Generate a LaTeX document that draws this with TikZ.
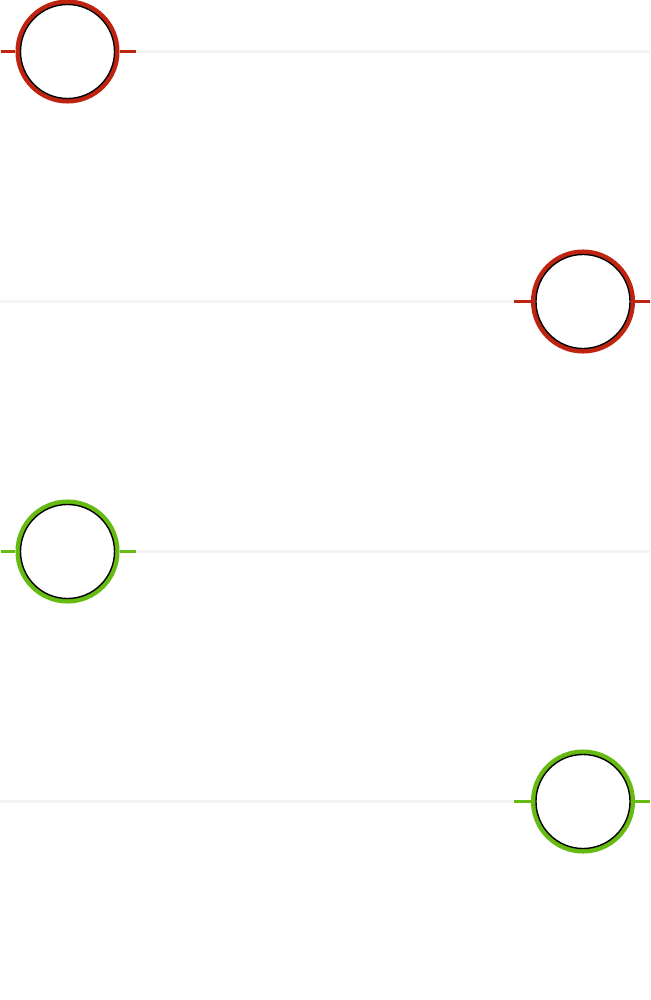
\documentclass[tikz,border=0pt]{standalone}
\usepackage{tikz}

\definecolor{valvered}{RGB}{192,36,16}
\definecolor{valvegreen}{RGB}{102,187,17}
\definecolor{railgray}{RGB}{244,244,244}

\tikzset{
  valve/.style={circle,draw=#1,line width=0.045cm,minimum size=0.995cm,inner sep=0pt},
  stub/.style={draw=#1,line width=0.025cm},
  rail/.style={draw=railgray,line width=0.03cm}
}

\begin{document}
\begin{tikzpicture}[x=0.01cm,y=-0.01cm]
    \useasboundingbox (0,0) rectangle (650,1000);

    % row 1 (red, left)
    \coordinate (a1) at (1,51.5);
    \coordinate (b1) at (136,51.5);
    \coordinate (c1) at (650,51.5);
    \draw[rail] (b1) -- (c1);
    \node[valve=valvered] (v1) at (67.5,51.5) {};
    \draw[black,line width=0.4pt] (v1.center) circle (0.47cm);
    \draw[stub=valvered] (a1) -- (v1.west);
    \draw[stub=valvered] (v1.east) -- (b1);

    % row 2 (red, right)
    \coordinate (a2) at (0,301.5);
    \coordinate (b2) at (514,301.5);
    \coordinate (c2) at (650,301.5);
    \draw[rail] (a2) -- (b2);
    \node[valve=valvered] (v2) at (583,301.5) {};
    \draw[black,line width=0.4pt] (v2.center) circle (0.47cm);
    \draw[stub=valvered] (b2) -- (v2.west);
    \draw[stub=valvered] (v2.east) -- (c2);

    % row 3 (green, left)
    \coordinate (a3) at (1,551.5);
    \coordinate (b3) at (136,551.5);
    \coordinate (c3) at (650,551.5);
    \draw[rail] (b3) -- (c3);
    \node[valve=valvegreen] (v3) at (67.5,551.5) {};
    \draw[black,line width=0.4pt] (v3.center) circle (0.47cm);
    \draw[stub=valvegreen] (a3) -- (v3.west);
    \draw[stub=valvegreen] (v3.east) -- (b3);

    % row 4 (green, right)
    \coordinate (a4) at (0,801.5);
    \coordinate (b4) at (514,801.5);
    \coordinate (c4) at (650,801.5);
    \draw[rail] (a4) -- (b4);
    \node[valve=valvegreen] (v4) at (583,801.5) {};
    \draw[black,line width=0.4pt] (v4.center) circle (0.47cm);
    \draw[stub=valvegreen] (b4) -- (v4.west);
    \draw[stub=valvegreen] (v4.east) -- (c4);
\end{tikzpicture}
\end{document}
